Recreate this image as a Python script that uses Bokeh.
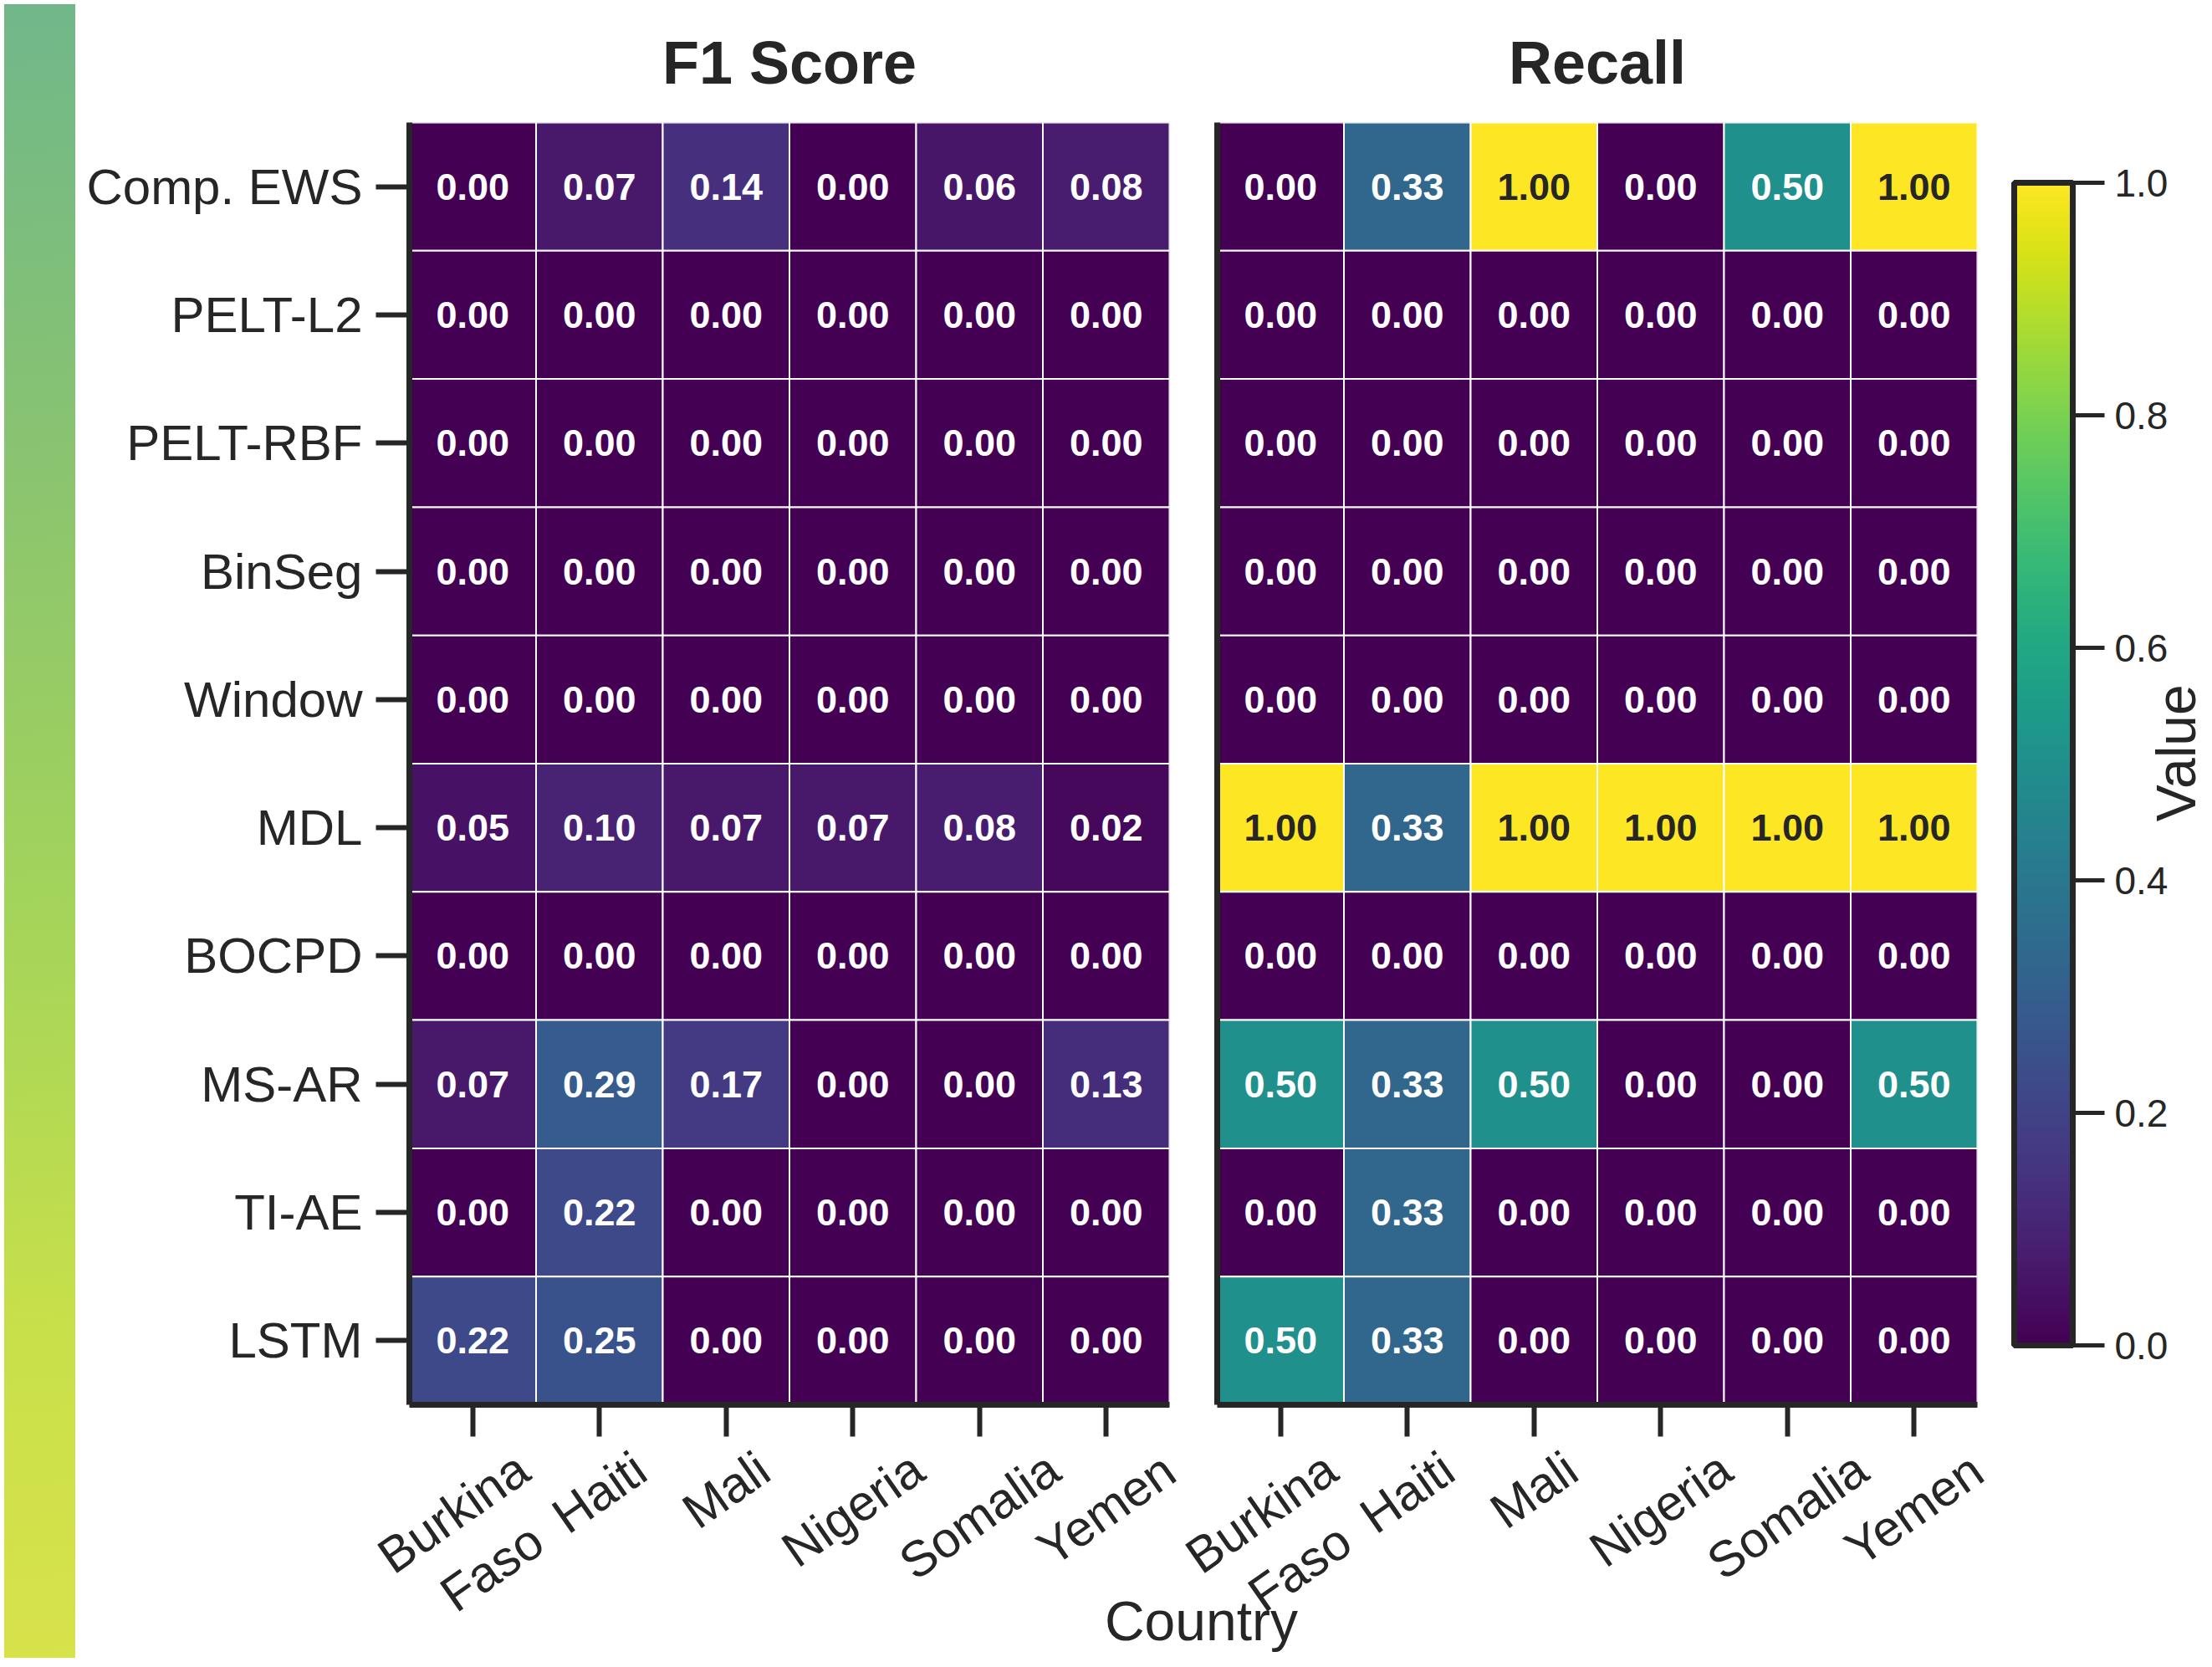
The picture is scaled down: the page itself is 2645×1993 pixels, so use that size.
import math
from bokeh.plotting import figure
from bokeh.models import (ColumnDataSource, FactorRange, LinearColorMapper, ColorBar,
                          FixedTicker, Div, PrintfTickFormatter, Range1d)
from bokeh.layouts import row, column
from bokeh.palettes import Viridis256
from bokeh.transform import transform
from bokeh.embed import file_html
from bokeh.resources import INLINE
from bokeh.core.properties import value

# ---------------- data ----------------
countries = ["Burkina Faso", "Haiti", "Mali", "Nigeria", "Somalia", "Yemen"]
country_tick_labels = ["Burkina\nFaso", "Haiti", "Mali", "Nigeria", "Somalia", "Yemen"]
methods = ["Comp. EWS", "PELT-L2", "PELT-RBF", "BinSeg", "Window",
           "MDL", "BOCPD", "MS-AR", "TI-AE", "LSTM"]

f1_score = [
    [0.00, 0.07, 0.14, 0.00, 0.06, 0.08],  # Comp. EWS
    [0.00, 0.00, 0.00, 0.00, 0.00, 0.00],  # PELT-L2
    [0.00, 0.00, 0.00, 0.00, 0.00, 0.00],  # PELT-RBF
    [0.00, 0.00, 0.00, 0.00, 0.00, 0.00],  # BinSeg
    [0.00, 0.00, 0.00, 0.00, 0.00, 0.00],  # Window
    [0.05, 0.10, 0.07, 0.07, 0.08, 0.02],  # MDL
    [0.00, 0.00, 0.00, 0.00, 0.00, 0.00],  # BOCPD
    [0.07, 0.29, 0.17, 0.00, 0.00, 0.13],  # MS-AR
    [0.00, 0.22, 0.00, 0.00, 0.00, 0.00],  # TI-AE
    [0.22, 0.25, 0.00, 0.00, 0.00, 0.00],  # LSTM
]

recall = [
    [0.00, 0.33, 1.00, 0.00, 0.50, 1.00],  # Comp. EWS
    [0.00, 0.00, 0.00, 0.00, 0.00, 0.00],  # PELT-L2
    [0.00, 0.00, 0.00, 0.00, 0.00, 0.00],  # PELT-RBF
    [0.00, 0.00, 0.00, 0.00, 0.00, 0.00],  # BinSeg
    [0.00, 0.00, 0.00, 0.00, 0.00, 0.00],  # Window
    [1.00, 0.33, 1.00, 1.00, 1.00, 1.00],  # MDL
    [0.00, 0.00, 0.00, 0.00, 0.00, 0.00],  # BOCPD
    [0.50, 0.33, 0.50, 0.00, 0.00, 0.50],  # MS-AR
    [0.00, 0.33, 0.00, 0.00, 0.00, 0.00],  # TI-AE
    [0.50, 0.33, 0.00, 0.00, 0.00, 0.00],  # LSTM
]

panel_titles = ["F1 Score", "Recall"]
colorbar_ticks = [0.0, 0.2, 0.4, 0.6, 0.8, 1.0]
x_label = "Country"
cbar_label = "Value"

# ---------------- style / layout sizes ----------------
FONT = "Liberation Sans"
INK = "#262626"
PAGE_X0, PAGE_Y0 = 8, 8
H_FIG = 1977
W_STRIP = 85
W_LEFT = 1331
W_RIGHT = 1213
W_VALUE = 100
B_TOP = 140
B_BOTTOM = 298
L_BORDERS = (394, 28)     # left panel: left / right borders
R_BORDERS = (29, 275)     # right panel: left / right borders
TICK_FONT = 60
ROT = math.radians(35)

mapper = LinearColorMapper(palette=Viridis256, low=0, high=1)


def text_color_for(v):
    idx = min(255, max(0, int(round(v * 255))))
    hx = Viridis256[idx].lstrip("#")
    r, g, b = [int(hx[i:i + 2], 16) / 255 for i in (0, 2, 4)]
    lin = [c / 12.92 if c <= 0.03928 else ((c + 0.055) / 1.055) ** 2.4 for c in (r, g, b)]
    lum = 0.2126 * lin[0] + 0.7152 * lin[1] + 0.0722 * lin[2]
    return INK if lum > 0.408 else "white"


def heatmap(title, matrix, width, borders, show_ylabels):
    cx, cy, vals, labs, tcol = [], [], [], [], []
    for m, rowvals in zip(methods, matrix):
        for c, v in zip(countries, rowvals):
            cx.append(c)
            cy.append(m)
            vals.append(v)
            labs.append(f"{v:.2f}")
            tcol.append(text_color_for(v))
    src = ColumnDataSource(dict(country=cx, method=cy, value=vals, label=labs, tcolor=tcol))

    p = figure(width=width, height=H_FIG,
               x_range=FactorRange(*countries),
               y_range=FactorRange(*list(reversed(methods))),
               output_backend="svg", toolbar_location=None,
               min_border_left=borders[0], min_border_right=borders[1],
               min_border_top=B_TOP, min_border_bottom=B_BOTTOM)
    p.rect(x="country", y="method", width=1, height=1, source=src,
           fill_color=transform("value", mapper), line_color="white", line_width=2)
    p.text(x="country", y="method", text="label", source=src,
           text_color="tcolor", text_font=value(FONT), text_font_size="45px",
           text_font_style="bold", text_align="center", text_baseline="middle")

    p.title.text = title
    p.title.align = "center"
    p.title.text_font = FONT
    p.title.text_font_size = "72px"
    p.title.text_font_style = "bold"
    p.title.text_color = INK
    p.title.standoff = 64

    p.grid.visible = False
    p.outline_line_color = None

    for ax in (p.xaxis, p.yaxis):
        ax.axis_line_width = 7
        ax.axis_line_color = INK
        ax.major_tick_line_width = 6
        ax.major_tick_line_color = INK
        ax.major_tick_in = 0
        ax.minor_tick_line_color = None
        ax.major_label_text_font = FONT
        ax.major_label_text_color = INK

    # x tick marks from the axis; their (centred, wrapped) labels are laid over below
    p.xaxis.major_tick_out = 38
    p.xaxis.major_label_text_font_size = "10px"
    p.xaxis.major_label_text_color = None

    if show_ylabels:
        p.yaxis.major_tick_out = 40
        p.yaxis.major_label_standoff = 16
        p.yaxis.major_label_text_font_size = "60px"
    else:
        p.yaxis.major_tick_out = 0
        p.yaxis.major_tick_line_color = None
        p.yaxis.major_label_standoff = 0
        p.yaxis.major_label_text_font_size = "10px"
        p.yaxis.major_label_text_color = None
    return p


left = heatmap(panel_titles[0], f1_score, W_LEFT, L_BORDERS, True)
right = heatmap(panel_titles[1], recall, W_RIGHT, R_BORDERS, False)

cbar = ColorBar(color_mapper=mapper, ticker=FixedTicker(ticks=colorbar_ticks),
                formatter=PrintfTickFormatter(format="%.1f"),
                width=70, height=1390, location="center_left", padding=44, margin=0,
                bar_line_color=INK, bar_line_width=7,
                major_tick_out=38, major_tick_in=0, major_tick_line_color=INK,
                major_tick_line_width=5, minor_tick_line_color=None,
                major_label_text_font=FONT, major_label_text_font_size="46px",
                major_label_text_color=INK, label_standoff=12,
                background_fill_alpha=0, border_line_color=None)
right.add_layout(cbar, "right")


def overlay(width, height, margin):
    f = figure(width=width, height=height, output_backend="svg", toolbar_location=None,
               title=None, min_border=0, x_axis_type=None, y_axis_type=None,
               x_range=Range1d(0, width), y_range=Range1d(0, height), margin=margin)
    f.outline_line_color = None
    f.grid.visible = False
    f.background_fill_color = None
    f.border_fill_color = None
    return f


# colour-bar label, laid over the right edge of the right panel
value_fig = overlay(W_VALUE, H_FIG, (0, 0, 0, -W_VALUE))
value_fig.text(x=[62], y=[1005], text=[cbar_label], angle=math.pi / 2,
               text_align="center", text_baseline="middle", text_font=value(FONT),
               text_font_size="66px", text_color=INK)

# ---- centred, rotated country labels + shared x label, laid over the panels' bottoms ----
CHAR_W = {"B": .667, "u": .556, "r": .333, "k": .5, "i": .222, "n": .556, "a": .556,
          "F": .611, "s": .5, "o": .556, "H": .722, "t": .278, "M": .833, "l": .222,
          "N": .722, "g": .556, "e": .556, "S": .667, "m": .833, "Y": .667, " ": .278}


def text_box(label, size):
    lines = label.split("\n")
    w = max(sum(CHAR_W.get(ch, .556) for ch in ln) for ln in lines) * size
    h = size * 1.117 * (1 + 1.2 * (len(lines) - 1))
    return w, h


W_OVER = W_LEFT + W_RIGHT
over = overlay(W_OVER, B_BOTTOM, (-B_BOTTOM, 0, 0, 0))
frame_y_bottom = PAGE_Y0 + H_FIG - B_BOTTOM          # page y of the panels' lower edge
label_top = frame_y_bottom + 38 + 5                  # tick length + pad
lx, ly, lt = [], [], []
for x0, borders, width in ((PAGE_X0 + W_STRIP, L_BORDERS, W_LEFT),
                           (PAGE_X0 + W_STRIP + W_LEFT, R_BORDERS, W_RIGHT)):
    f_left = x0 + borders[0]
    cell = (width - borders[0] - borders[1]) / len(countries)
    for i, lab in enumerate(country_tick_labels):
        w, h = text_box(lab, TICK_FONT)
        bh = w * math.sin(ROT) + h * math.cos(ROT)
        lx.append(f_left + (i + 0.5) * cell - (PAGE_X0 + W_STRIP))
        ly.append(PAGE_Y0 + H_FIG - (label_top + bh / 2))
        lt.append(lab)
over.text(x=lx, y=ly, text=lt, angle=ROT, text_align="center", text_baseline="middle",
          text_font=value(FONT), text_font_size=f"{TICK_FONT}px", text_color=INK,
          text_line_height=1.2)
over.text(x=[1434 - (PAGE_X0 + W_STRIP)], y=[40], text=[x_label], text_align="center",
          text_baseline="middle", text_font=value(FONT), text_font_size="66px",
          text_color=INK)

strip = Div(text="", width=W_STRIP, height=H_FIG,
            styles={"background": "linear-gradient(175deg, #70b78a 0%, #8cc56e 30%, #a4d45a 55%, #c8e04a 80%, #d8e24b 100%)"})

layout = row(strip, column(row(left, right, value_fig), over))

open("out.html", "w").write(file_html(layout, INLINE))
